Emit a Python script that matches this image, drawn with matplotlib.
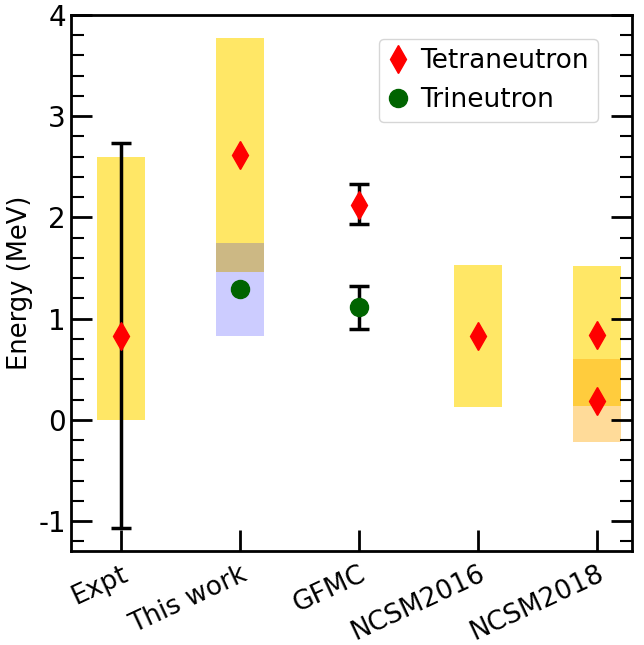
import matplotlib.pyplot as plt
from matplotlib.ticker import MultipleLocator

labels = ["Expt", "This work", "GFMC", "NCSM2016", "NCSM2018"]

# yellow bands (tetraneutron ranges): (position, low, high)
yellow_x = [1, 2, 4, 5]
yellow_lo = [0.0, 1.46, 0.13, 0.14]
yellow_hi = [2.60, 3.77, 1.53, 1.52]

# blue band (trineutron, this work)
blue_x = [2]
blue_lo = [0.83]
blue_hi = [1.75]

# orange band (NCSM2018)
orange_x = [5]
orange_lo = [-0.22]
orange_hi = [0.60]

# tetraneutron points
tetra_x = [1, 2, 3, 4, 5, 5]
tetra_y = [0.83, 2.62, 2.12, 0.83, 0.84, 0.19]

# trineutron points
tri_x = [2, 3]
tri_y = [1.29, 1.11]

# error bars
err_x = [1, 3, 3]
err_y = [0.83, 2.12, 1.11]
err_lo = [1.90, 0.19, 0.21]
err_hi = [1.90, 0.21, 0.21]

fig, ax = plt.subplots(figsize=(6.44, 6.45), dpi=100)

w = 0.4
for x, lo, hi in zip(yellow_x, yellow_lo, yellow_hi):
    ax.bar(x, hi - lo, bottom=lo, width=w, color='gold', alpha=0.6, lw=0)
for x, lo, hi in zip(blue_x, blue_lo, blue_hi):
    ax.bar(x, hi - lo, bottom=lo, width=w, color='blue', alpha=0.2, lw=0)
for x, lo, hi in zip(orange_x, orange_lo, orange_hi):
    ax.bar(x, hi - lo, bottom=lo, width=w, color='orange', alpha=0.4, lw=0)

ax.errorbar(err_x, err_y, yerr=[err_lo, err_hi], fmt='none', ecolor='black',
            elinewidth=2.5, capsize=7, capthick=2.5, zorder=3)
ax.plot(tetra_x, tetra_y, 'd', color='red', ms=14, ls='none',
        label='Tetraneutron', zorder=4)
ax.plot(tri_x, tri_y, 'o', color='darkgreen', ms=13, ls='none',
        label='Trineutron', zorder=4)

ax.set_xlim(0.58, 5.29)
ax.set_ylim(-1.3, 4)
ax.set_xticks(range(1, 6))
ax.set_xticklabels(labels, rotation=25, ha='right', rotation_mode='anchor',
                   fontsize=19)
ax.yaxis.set_minor_locator(MultipleLocator(0.2))
ax.set_yticks([-1, 0, 1, 2, 3, 4])
ax.set_yticklabels(['-1', '0', '1', '2', '3', '4'], fontsize=20)
ax.set_ylabel('Energy (MeV)', fontsize=18.5)

ax.tick_params(axis='both', which='major', direction='in', length=15, width=2)
ax.tick_params(axis='x', which='major', pad=7)
ax.tick_params(axis='y', which='both', right=True, direction='in')
ax.tick_params(axis='y', which='minor', length=9, width=1.5)
ax.tick_params(axis='x', which='minor', bottom=False)
for s in ax.spines.values():
    s.set_linewidth(2)

ax.legend(loc='upper right', bbox_to_anchor=(0.963, 0.98), fontsize=19,
          handletextpad=0.5, borderpad=0.35, labelspacing=0.5, handlelength=0.7,
          borderaxespad=0.5)

plt.subplots_adjust(left=0.11, right=0.981, top=0.977, bottom=0.145)
plt.savefig('out.png')
